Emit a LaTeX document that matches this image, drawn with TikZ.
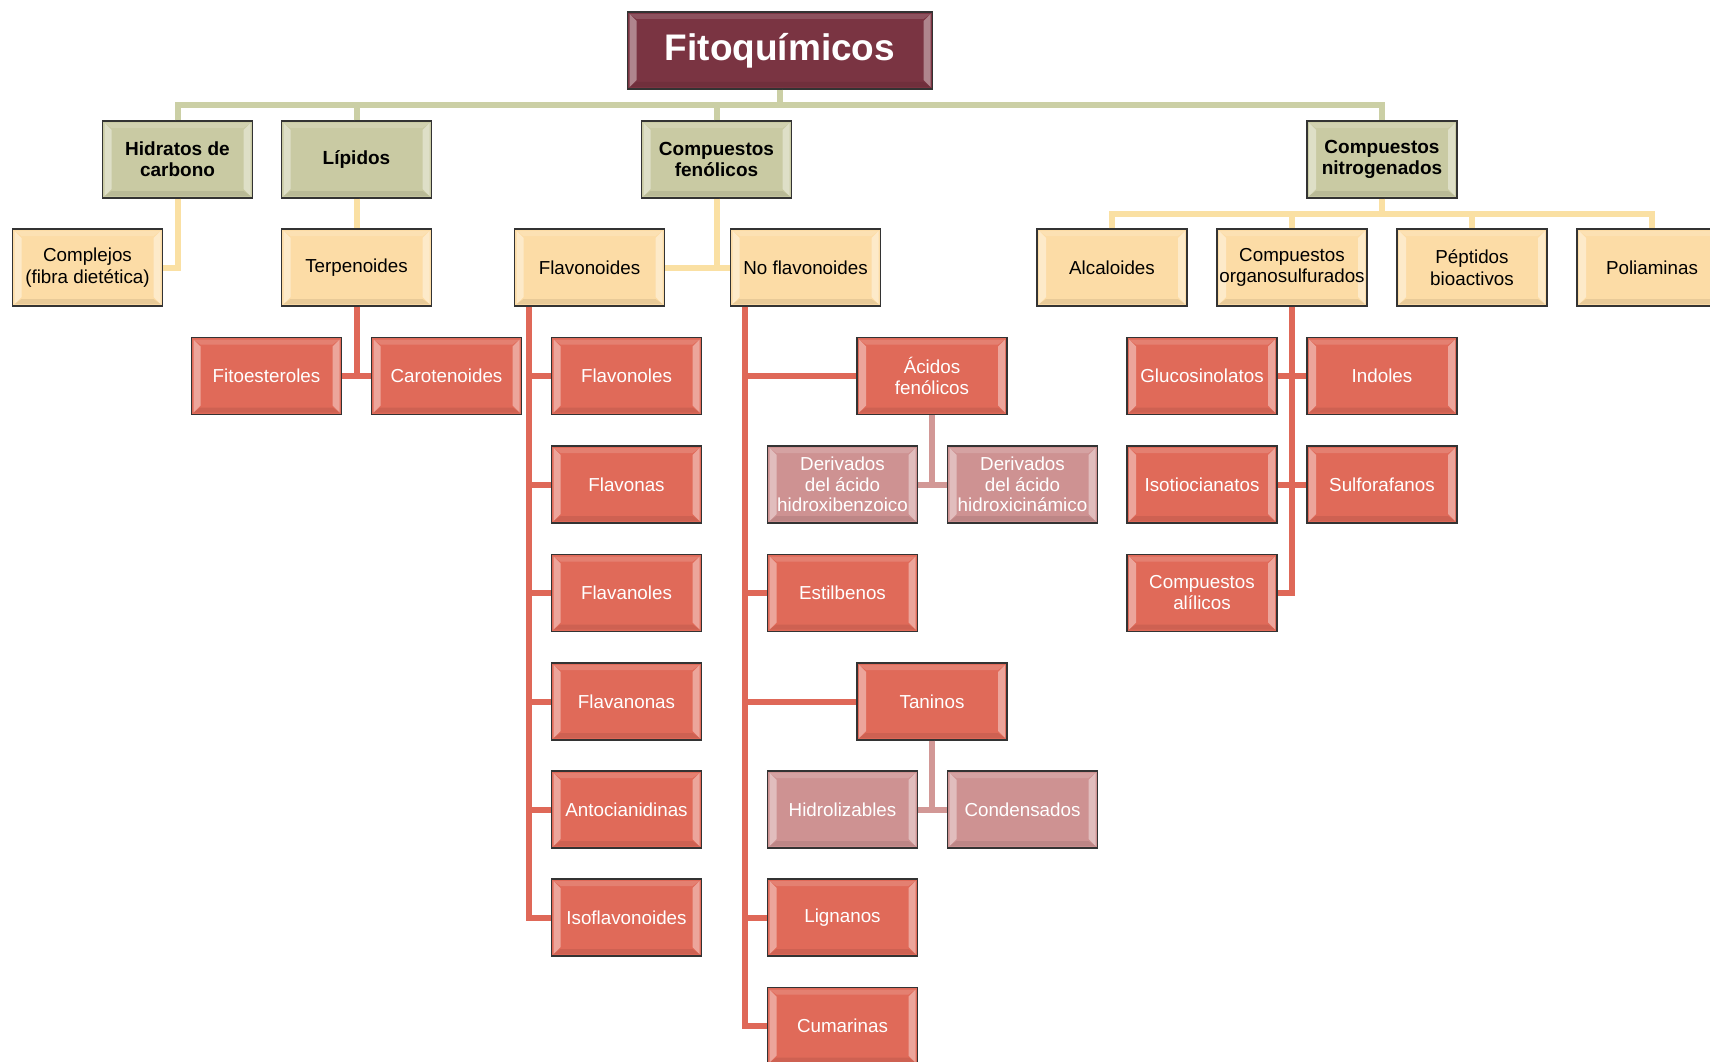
\documentclass[tikz,border=0pt]{standalone}
\usepackage{fontspec}
\setmainfont{Liberation Sans}
\definecolor{fitoC}{RGB}{122,52,66}
\definecolor{oliveF}{RGB}{201,202,163}
\definecolor{oliveL}{RGB}{203,207,165}
\definecolor{creamF}{RGB}{252,220,166}
\definecolor{creamL}{RGB}{250,224,163}
\definecolor{redF}{RGB}{224,106,89}
\definecolor{redL}{RGB}{223,104,88}
\definecolor{pinkF}{RGB}{206,146,146}
\definecolor{pinkL}{RGB}{210,152,150}
\tikzset{
  bevel/.style={path picture={
    \fill[white,opacity=.4] ([xshift=2pt,yshift=-2pt]path picture bounding box.north west) -- ([xshift=9pt,yshift=-9pt]path picture bounding box.north west) -- ([xshift=9pt,yshift=9pt]path picture bounding box.south west) -- ([xshift=2pt,yshift=2pt]path picture bounding box.south west) -- cycle;
    \fill[white,opacity=.4] ([xshift=-2pt,yshift=-2pt]path picture bounding box.north east) -- ([xshift=-9pt,yshift=-9pt]path picture bounding box.north east) -- ([xshift=-9pt,yshift=9pt]path picture bounding box.south east) -- ([xshift=-2pt,yshift=2pt]path picture bounding box.south east) -- cycle;
    \fill[white,opacity=.15] ([xshift=2pt,yshift=-2pt]path picture bounding box.north west) -- ([xshift=-2pt,yshift=-2pt]path picture bounding box.north east) -- ([xshift=-9pt,yshift=-7pt]path picture bounding box.north east) -- ([xshift=9pt,yshift=-7pt]path picture bounding box.north west) -- cycle;
    \fill[black,opacity=.08] ([xshift=2pt,yshift=2pt]path picture bounding box.south west) -- ([xshift=-2pt,yshift=2pt]path picture bounding box.south east) -- ([xshift=-9pt,yshift=7pt]path picture bounding box.south east) -- ([xshift=9pt,yshift=7pt]path picture bounding box.south west) -- cycle;
  }},
  box/.style={draw=black!80, line width=1.3pt, minimum width=150pt, minimum height=77pt, inner sep=0pt, align=center, bevel},
  titlebox/.style={box, fill=fitoC, text=white, minimum width=305pt, font=\fontsize{37}{44}\selectfont\bfseries},
  lvlone/.style={box, fill=oliveF, font=\fontsize{19}{21}\selectfont\bfseries},
  lvltwo/.style={box, fill=creamF, font=\fontsize{18.8}{21.5}\selectfont},
  redbox/.style={box, fill=redF, text=white, font=\fontsize{18.8}{21}\selectfont},
  pinkbox/.style={box, fill=pinkF, text=white, font=\fontsize{18.8}{20.7}\selectfont},
  conn/.style={line width=6pt},
  olc/.style={conn, draw=oliveL},
  crc/.style={conn, draw=creamL},
  rdc/.style={conn, draw=redL},
  pkc/.style={conn, draw=pinkL},
}
\begin{document}
\begin{tikzpicture}[x=1pt,y=-1pt]
\useasboundingbox (0,0) rectangle (1710,1062);
% title
\node[titlebox] (fito) at (780,50.5) {Fitoquímicos};
% level 1
\node[lvlone] (hid) at (177.5,159.5) {Hidratos de\\carbono};
\node[lvlone] (lip) at (356.5,159.5) {Lípidos};
\node[lvlone] (fen) at (716.5,159.5) {Compuestos\\fenólicos};
\node[lvlone] (nit) at (1382,159.5) {Compuestos\\nitrogenados};
% level 2
\node[lvltwo] (compl) at (87.5,267.5) {Complejos\\(fibra dietética)};
\node[lvltwo] (terp) at (356.5,267.5) {Terpenoides};
\node[lvltwo] (flav) at (589.5,267.5) {Flavonoides};
\node[lvltwo] (noflav) at (805.5,267.5) {No flavonoides};
\node[lvltwo] (alc) at (1112,267.5) {Alcaloides};
\node[lvltwo] (org) at (1292,267.5) {Compuestos\\organosulfurados};
\node[lvltwo] (pep) at (1472,267.5) {Péptidos\\bioactivos};
\node[lvltwo] (poli) at (1652,267.5) {Poliaminas};
% level 3
\node[redbox] (fitoest) at (266.5,376) {Fitoesteroles};
\node[redbox] (carot) at (446.5,376) {Carotenoides};
\node[redbox] (flavonoles) at (626.5,376) {Flavonoles};
\node[redbox] (flavonas) at (626.5,484.5) {Flavonas};
\node[redbox] (flavanoles) at (626.5,593) {Flavanoles};
\node[redbox] (flavanonas) at (626.5,701.5) {Flavanonas};
\node[redbox] (antoc) at (626.5,809.5) {Antocianidinas};
\node[redbox] (isofl) at (626.5,917.5) {Isoflavonoides};
\node[redbox] (acid) at (932,376) {Ácidos\\fenólicos};
\node[pinkbox] (dhb) at (842.5,484.5) {Derivados\\del ácido\\hidroxibenzoico};
\node[pinkbox] (dhc) at (1022.5,484.5) {Derivados\\del ácido\\hidroxicinámico};
\node[redbox] (estil) at (842.5,593) {Estilbenos};
\node[redbox] (tan) at (932,701.5) {Taninos};
\node[pinkbox] (hidro) at (842.5,809.5) {Hidrolizables};
\node[pinkbox] (cond) at (1022.5,809.5) {Condensados};
\node[redbox] (lign) at (842.5,917.5) {Lignanos};
\node[redbox] (cum) at (842.5,1026) {Cumarinas};
\node[redbox] (gluc) at (1202,376) {Glucosinolatos};
\node[redbox] (ind) at (1382,376) {Indoles};
\node[redbox] (iso) at (1202,484.5) {Isotiocianatos};
\node[redbox] (sulf) at (1382,484.5) {Sulforafanos};
\node[redbox] (alil) at (1202,593) {Compuestos\\alílicos};
% olive connectors
\coordinate (bus1) at (780,105);
\draw[olc] (fito.south) -- (bus1);
\draw[olc] (hid.north) |- (bus1) -| (nit.north);
\draw[olc] (lip.north) -- (lip.north |- bus1);
\draw[olc] (fen.north) -- (fen.north |- bus1);
% cream connectors
\draw[crc] (hid.south) |- (compl.east);
\draw[crc] (lip.south) -- (terp.north);
\draw[crc] (fen.south) -- (fen.south |- flav.east);
\draw[crc] (flav.east) -- (noflav.west);
\coordinate (bus2) at (1382,214);
\draw[crc] (nit.south) -- (bus2);
\draw[crc] (alc.north) |- (bus2) -| (poli.north);
\draw[crc] (org.north) -- (org.north |- bus2);
\draw[crc] (pep.north) -- (pep.north |- bus2);
% red connectors
\draw[rdc] (terp.south) |- (fitoest.east);
\draw[rdc] (terp.south) |- (carot.west);
\coordinate (fv) at ([xshift=15pt]flav.south west);
\draw[rdc] (fv) |- (isofl.west);
\foreach \n in {flavonoles,flavonas,flavanoles,flavanonas,antoc}
  \draw[rdc] (fv |- \n.west) -- (\n.west);
\coordinate (nv) at ([xshift=15pt]noflav.south west);
\draw[rdc] (nv) |- (cum.west);
\foreach \n in {acid,estil,tan,lign}
  \draw[rdc] (nv |- \n.west) -- (\n.west);
\draw[rdc] (org.south) |- (alil.east);
\draw[rdc] (gluc.east) -- (ind.west);
\draw[rdc] (iso.east) -- (sulf.west);
% pink connectors
\draw[pkc] (acid.south) |- (dhb.east);
\draw[pkc] (acid.south) |- (dhc.west);
\draw[pkc] (tan.south) |- (hidro.east);
\draw[pkc] (tan.south) |- (cond.west);
\end{tikzpicture}
\end{document}
